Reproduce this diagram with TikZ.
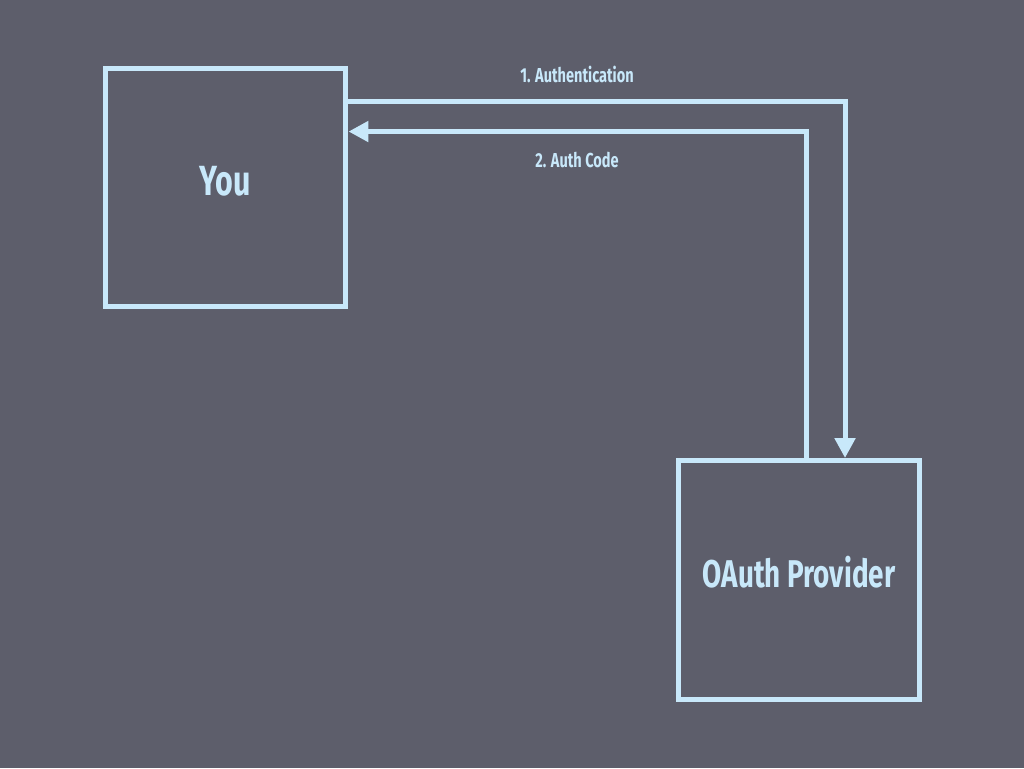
\documentclass[tikz,border=0pt]{standalone}
\usepackage{fontspec}
\newfontfamily\condfont[FakeStretch=0.72]{Fira Sans}
\usetikzlibrary{arrows.meta,positioning,calc}
\definecolor{slate}{HTML}{5D5E6B}
\definecolor{iceblue}{HTML}{C8E8FA}
\tikzset{
  party/.style={draw=iceblue, line width=0.1cm, minimum width=4.82cm, minimum height=4.78cm,
    text=iceblue, text depth=0pt, font=\condfont\bfseries\fontsize{24}{28}\selectfont},
  flow/.style={draw=iceblue, line width=0.1cm, -{Triangle[width=0.4cm,length=0.4cm]}},
  steplabel/.style={text=iceblue, font=\condfont\bfseries\fontsize{11.5}{13}\selectfont}
}
\begin{document}
\begin{tikzpicture}[x=0.02cm, y=-0.02cm]
    \fill [slate] (0,0) rectangle (1024,768) ;
    \useasboundingbox (0,0) rectangle (1024,768) ;
    \node [party] (you) at (225.5,187.5) {\raisebox{8pt}{You}} ;
    \node [party, font=\condfont\bfseries\fontsize{22}{26}\selectfont] (prov) at (799,580) {\raisebox{9pt}{OAuth Provider}} ;
    % requests and replies
    \draw [flow] ($(you.north east)+(0,36)$) -| ($(prov.north west)+(169,0)$) ;
    \draw [flow] ($(prov.north west)+(130,0)$) |- ($(you.north east)+(0,66)$) ;
    \node [steplabel] (auth) at (577,74) {1. Authentication} ;
    \node [steplabel] (code) at (577,160) {2. Auth Code} ;
\end{tikzpicture}
\end{document}
